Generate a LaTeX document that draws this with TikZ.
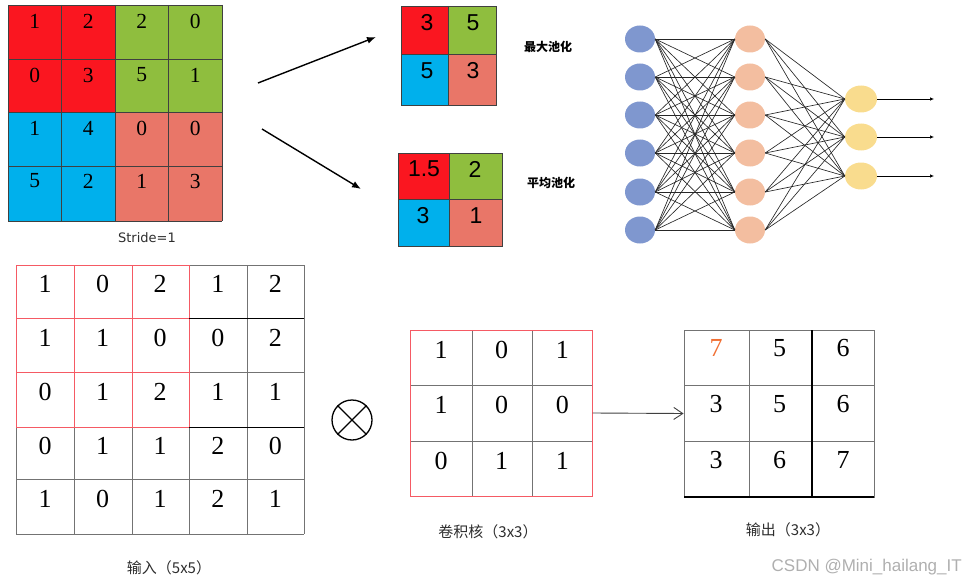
\documentclass[tikz,border=0pt]{standalone}
\usepackage{fontspec}
\setmainfont{Liberation Serif}
\newfontfamily\cjk{Noto Sans CJK SC}
\newfontfamily\lsans{Liberation Sans}
\newfontfamily\dsans{DejaVu Sans}
\usetikzlibrary{arrows.meta,shapes.geometric}
\definecolor{cred}{RGB}{250,22,32}
\definecolor{cgreen}{RGB}{143,190,62}
\definecolor{cblue}{RGB}{0,176,236}
\definecolor{csalmon}{RGB}{233,118,104}
\definecolor{nblue}{RGB}{127,151,207}
\definecolor{npeach}{RGB}{243,190,160}
\definecolor{nyellow}{RGB}{249,220,142}
\definecolor{ggray}{RGB}{115,115,115}
\definecolor{kred}{RGB}{245,90,100}
\definecolor{orng}{RGB}{240,110,50}
\definecolor{lbl}{RGB}{45,45,45}
\definecolor{wm}{RGB}{175,175,175}
\tikzset{
  topnum/.style={font=\fontsize{21.5}{21.5}\selectfont, inner sep=0pt},
  poolnum/.style={font=\lsans\fontsize{23}{23}\selectfont, inner sep=0pt},
  bignum/.style={font=\fontsize{26}{26}\selectfont, inner sep=0pt},
  cjklbl/.style={font=\cjk\bfseries\fontsize{12}{12}\selectfont, inner sep=0pt},
  botlbl/.style={font=\cjk\fontsize{15}{15}\selectfont, text=lbl, inner sep=0pt},
  neuron/.style={ellipse, minimum width=30pt, minimum height=27pt, inner sep=0pt},
  nnedge/.style={black!85, line width=0.65pt},
  gridline/.style={ggray, line width=0.9pt},
  poolarrow/.style={line width=1.4pt, -{Latex[length=9pt,width=7pt]}},
}
\begin{document}
\begin{tikzpicture}[x=1pt,y=-1pt]
\useasboundingbox (0,0) rectangle (966,583);

% ---------- top-left 4x4 grid ----------
\fill[cred] (8,5) rectangle (115,112);
\fill[cgreen] (115,5) rectangle (222,112);
\fill[cblue] (8,112) rectangle (115,221);
\fill[csalmon] (115,112) rectangle (222,221);
\foreach \x in {8,61.5,115,168.5,222} \draw[black!75, line width=0.7pt] (\x,5) -- (\x,221);
\foreach \y in {5,59,112,166,221} \draw[black!75, line width=0.7pt] (8,\y) -- (222,\y);
\foreach \v [count=\c from 0] in {1,2,2,0} \node[topnum] (ta\c) at ({34.75+53.5*\c},21) {\v};
\foreach \v [count=\c from 0] in {0,3,5,1} \node[topnum] (tb\c) at ({34.75+53.5*\c},75) {\v};
\foreach \v [count=\c from 0] in {1,4,0,0} \node[topnum] (tc\c) at ({34.75+53.5*\c},128) {\v};
\foreach \v [count=\c from 0] in {5,2,1,3} \node[topnum] (td\c) at ({34.75+53.5*\c},181) {\v};
\node[font=\dsans\fontsize{13}{13}\selectfont, text=lbl] (stride) at (147,238) {Stride=1};

% ---------- pooling arrows ----------
\coordinate (pa1) at (258,83);
\coordinate (pa2) at (376,37);
\coordinate (pb1) at (262,129);
\coordinate (pb2) at (361,189);
\draw[poolarrow] (pa1) -- (pa2);
\draw[poolarrow] (pb1) -- (pb2);

% ---------- max pooling ----------
\fill[cred] (401,6) rectangle (448,54);
\fill[cgreen] (448,6) rectangle (496,54);
\fill[cblue] (401,54) rectangle (448,105);
\fill[csalmon] (448,54) rectangle (496,105);
\draw[black!75, line width=0.7pt] (401,6) rectangle (496,105) (448,6) -- (448,105) (401,54) -- (496,54);
\node[poolnum] (m11) at (427,23) {3};
\node[poolnum] (m12) at (473,23) {5};
\node[poolnum] (m21) at (427,71) {5};
\node[poolnum] (m22) at (473,71) {3};
\node[cjklbl] (maxl) at (548,47) {最大池化};

% ---------- average pooling ----------
\fill[cred] (398,153) rectangle (449,199);
\fill[cgreen] (449,153) rectangle (502,199);
\fill[cblue] (398,199) rectangle (449,246);
\fill[csalmon] (449,199) rectangle (502,246);
\draw[black!75, line width=0.7pt] (398,153) rectangle (502,246) (449,153) -- (449,246) (398,199) -- (502,199);
\node[poolnum] (v11) at (424,169) {1.5};
\node[poolnum] (v12) at (475,169) {2};
\node[poolnum] (v21) at (423,216) {3};
\node[poolnum] (v22) at (476,216) {1};
\node[cjklbl] (avgl) at (551,183) {平均池化};

% ---------- neural network ----------
\foreach \y [count=\i] in {39,77,115,153,192,230} {
  \node[neuron, fill=nblue] (in\i) at (640,\y) {};
  \node[neuron, fill=npeach] (hid\i) at (750,\y) {};
}
\foreach \y [count=\i] in {99,137,176} \node[neuron, fill=nyellow, minimum width=32pt] (out\i) at (861,\y) {};
\foreach \i in {1,...,6} \foreach \j in {1,...,6} \draw[nnedge] (in\i.east) -- (hid\j.west);
\foreach \i in {1,...,6} \foreach \j in {1,2,3} \draw[nnedge] (hid\i.east) -- (out\j.west);
\foreach \j/\y in {1/99,2/137,3/176} {
  \coordinate (o\j) at (934,\y);
  \draw[black, line width=0.7pt, -{Latex[length=4pt,width=3.5pt]}] (out\j.east) -- (o\j);
}

% ---------- input 5x5 ----------
\foreach \x in {16,74,132,189,247,304} \draw[gridline] (\x,265) -- (\x,534);
\foreach \y in {265,318,372,427,479,534} \draw[gridline] (16,\y) -- (304,\y);
\foreach \x in {16,74,132,189} \draw[kred, line width=0.9pt] (\x,265) -- (\x,427);
\foreach \y in {265,318,372,427} \draw[kred, line width=0.9pt] (16,\y) -- (189,\y);
\draw[black, line width=1pt] (189,318) -- (304,318) (189,427) -- (304,427);
\foreach \v [count=\c from 0] in {1,0,2,1,2} \node[bignum] (ia\c) at ({45+57.6*\c},284) {\v};
\foreach \v [count=\c from 0] in {1,1,0,0,2} \node[bignum] (ib\c) at ({45+57.6*\c},338) {\v};
\foreach \v [count=\c from 0] in {0,1,2,1,1} \node[bignum] (ic\c) at ({45+57.6*\c},392) {\v};
\foreach \v [count=\c from 0] in {0,1,1,2,0} \node[bignum] (id\c) at ({45+57.6*\c},446) {\v};
\foreach \v [count=\c from 0] in {1,0,1,2,1} \node[bignum] (ie\c) at ({45+57.6*\c},499) {\v};
\node[botlbl] (inl) at (169,568) {输入（5x5）};

% ---------- otimes ----------
\node[circle, draw=black, line width=1.3pt, minimum size=40pt, inner sep=0pt] (otimes) at (352,420) {};
\draw[black, line width=1.3pt] (otimes.north west) -- (otimes.south east) (otimes.north east) -- (otimes.south west);

% ---------- kernel 3x3 ----------
\foreach \x in {472,532} \draw[gridline] (\x,330) -- (\x,496);
\foreach \y in {385,441} \draw[gridline] (410,\y) -- (592,\y);
\node[draw=kred, line width=1pt, minimum width=182pt, minimum height=166pt, inner sep=0pt] (kernel) at (501,413) {};
\foreach \v [count=\c from 0] in {1,0,1} \node[bignum] (ka\c) at ({441+60.7*\c},350) {\v};
\foreach \v [count=\c from 0] in {1,0,0} \node[bignum] (kb\c) at ({441+60.7*\c},405) {\v};
\foreach \v [count=\c from 0] in {0,1,1} \node[bignum] (kc\c) at ({441+60.7*\c},461) {\v};
\node[botlbl] (kl) at (488,532) {卷积核（3x3）};

% ---------- output 3x3 ----------
\node[draw=ggray, line width=0.9pt, minimum width=190pt, minimum height=167pt, inner sep=0pt] (outbox) at (779,413.5) {};
\draw[gridline] (749,330) -- (749,497);
\foreach \y in {385,441} \draw[gridline] (684,\y) -- (874,\y);
\draw[black, line width=1.1pt] (812,330) -- (812,497) (684,497) -- (874,497);
\node[bignum, text=orng] (oa0) at (716,348) {7};
\foreach \v [count=\c from 1] in {5,6} \node[bignum] (oa\c) at ({716+63.5*\c},348) {\v};
\foreach \v [count=\c from 0] in {3,5,6} \node[bignum] (ob\c) at ({716+63.5*\c},404) {\v};
\foreach \v [count=\c from 0] in {3,6,7} \node[bignum] (oc\c) at ({716+63.5*\c},460) {\v};
\node[botlbl] (ol) at (788,530) {输出（3x3）};

% ---------- kernel -> output arrow ----------
\draw[black!75, line width=0.9pt, -{Straight Barb[length=9pt,width=12pt]}] (kernel.east) -- (outbox.west);

% ---------- watermark ----------
\node[font=\lsans\fontsize{17}{17}\selectfont, text=wm, anchor=east, inner sep=0pt] (wmark) at (962,567) {CSDN @Mini\_hailang\_IT};
\end{tikzpicture}
\end{document}
